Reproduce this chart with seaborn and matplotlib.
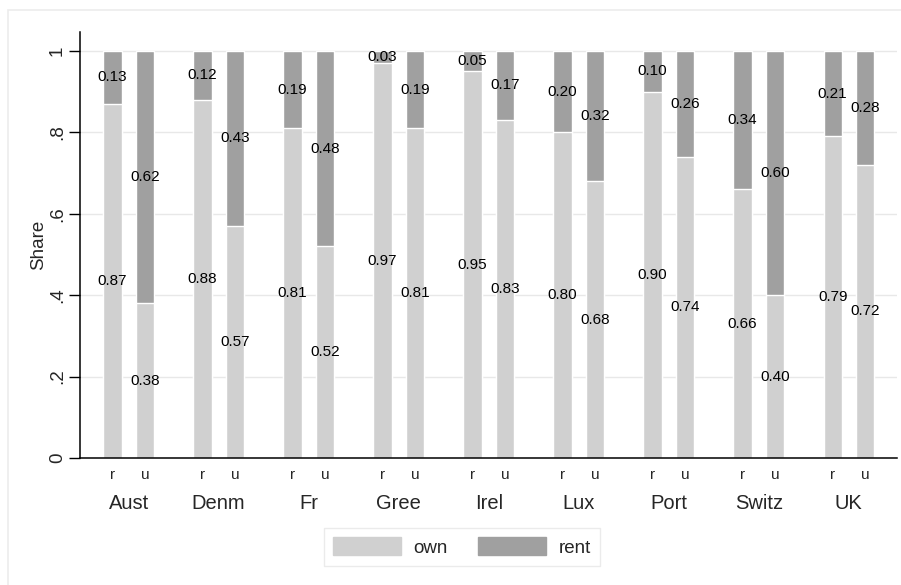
import numpy as np
import pandas as pd
import matplotlib.pyplot as plt
import seaborn as sns
from matplotlib.patches import Rectangle, Patch

countries = ["Aust", "Denm", "Fr", "Gree", "Irel", "Lux", "Port", "Switz", "UK"]
areas = ["r", "u"]
own_r = [0.87, 0.88, 0.81, 0.97, 0.95, 0.80, 0.90, 0.66, 0.79]
rent_r = [0.13, 0.12, 0.19, 0.03, 0.05, 0.20, 0.10, 0.34, 0.21]
own_u = [0.38, 0.57, 0.52, 0.81, 0.83, 0.68, 0.74, 0.40, 0.72]
rent_u = [0.62, 0.43, 0.48, 0.19, 0.17, 0.32, 0.26, 0.60, 0.28]

own_col = "#d0d0d0"
rent_col = "#a0a0a0"

# one row per bar, bars placed around each country's slot
groups = np.arange(len(countries))
df = pd.DataFrame({
    "pos": np.concatenate([groups - 0.18, groups + 0.18]),
    "area": ["r"] * len(countries) + ["u"] * len(countries),
    "own": own_r + own_u,
    "rent": rent_r + rent_u,
})
df["total"] = df["own"] + df["rent"]

sns.set_style("white")
plt.rcParams["font.family"] = ["Liberation Sans", "DejaVu Sans"]

fig = plt.figure(figsize=(9.01, 5.85), dpi=100)
ax = fig.add_axes([0.0893, 0.217, 0.9063, 0.7288])

# outer light frame (only left and top edges fall inside the picture)
top = 1 - 10 / 585
fig.patches.append(Rectangle((8 / 901, -0.5), 2.0, top + 0.5, transform=fig.transFigure,
                             fill=False, edgecolor="#ececec", linewidth=1.2, zorder=0))

for y in [0.2, 0.4, 0.6, 0.8, 1.0]:
    ax.axhline(y, color="#e8e8e8", linewidth=1.0, zorder=0)

sns.barplot(data=df, x="pos", y="total", native_scale=True, orient="x", color=rent_col,
            saturation=1, width=0.565, edgecolor="white", linewidth=1.0, errorbar=None, ax=ax, zorder=2)
sns.barplot(data=df, x="pos", y="own", native_scale=True, orient="x", color=own_col,
            saturation=1, width=0.565, edgecolor="white", linewidth=1.0, errorbar=None, ax=ax, zorder=3)

for _, row in df.iterrows():
    ax.text(row["pos"], row["own"] / 2, f"{row['own']:.2f}", ha="center", va="center",
            fontsize=11, color="black", zorder=4)
    ax.text(row["pos"], row["own"] + row["rent"] / 2, f"{row['rent']:.2f}", ha="center",
            va="center", fontsize=11, color="black", zorder=4)

ax.set_xlim(-0.535, len(countries) - 1 + 0.535)
ax.set_ylim(0, 1.047)

ax.set_yticks([0, 0.2, 0.4, 0.6, 0.8, 1.0])
ax.set_yticklabels(["0", ".2", ".4", ".6", ".8", "1"], rotation=90, va="center", fontsize=13.5)
ax.tick_params(axis="y", length=8, width=1, color="black", pad=2.5, left=True)

ax.set_xticks(df["pos"])
ax.set_xticklabels(df["area"], fontsize=11)
ax.tick_params(axis="x", length=0, pad=7)

for i, c in enumerate(countries):
    ax.text(i, -0.106, c, transform=ax.get_xaxis_transform(), ha="center", va="center",
            fontsize=14.5)

ax.set_xlabel("")
ax.set_ylabel("Share", fontsize=13.5, labelpad=1)

sns.despine(ax=ax, top=True, right=True)
for s in ["left", "bottom"]:
    ax.spines[s].set_color("black")
    ax.spines[s].set_linewidth(1.1)
    ax.spines[s].set_zorder(5)

handles = [Patch(facecolor=own_col, edgecolor=own_col, label="own"),
           Patch(facecolor=rent_col, edgecolor=rent_col, label="rent")]
fig.legend(handles=handles, loc="center", bbox_to_anchor=(0.5128, 0.065), ncol=2,
           fontsize=13.5, frameon=True, fancybox=False, edgecolor="#e6e6e6",
           handlelength=3.6, handleheight=1.1, columnspacing=1.6, handletextpad=0.7,
           borderpad=0.5)

fig.savefig("out.png", dpi=100)
